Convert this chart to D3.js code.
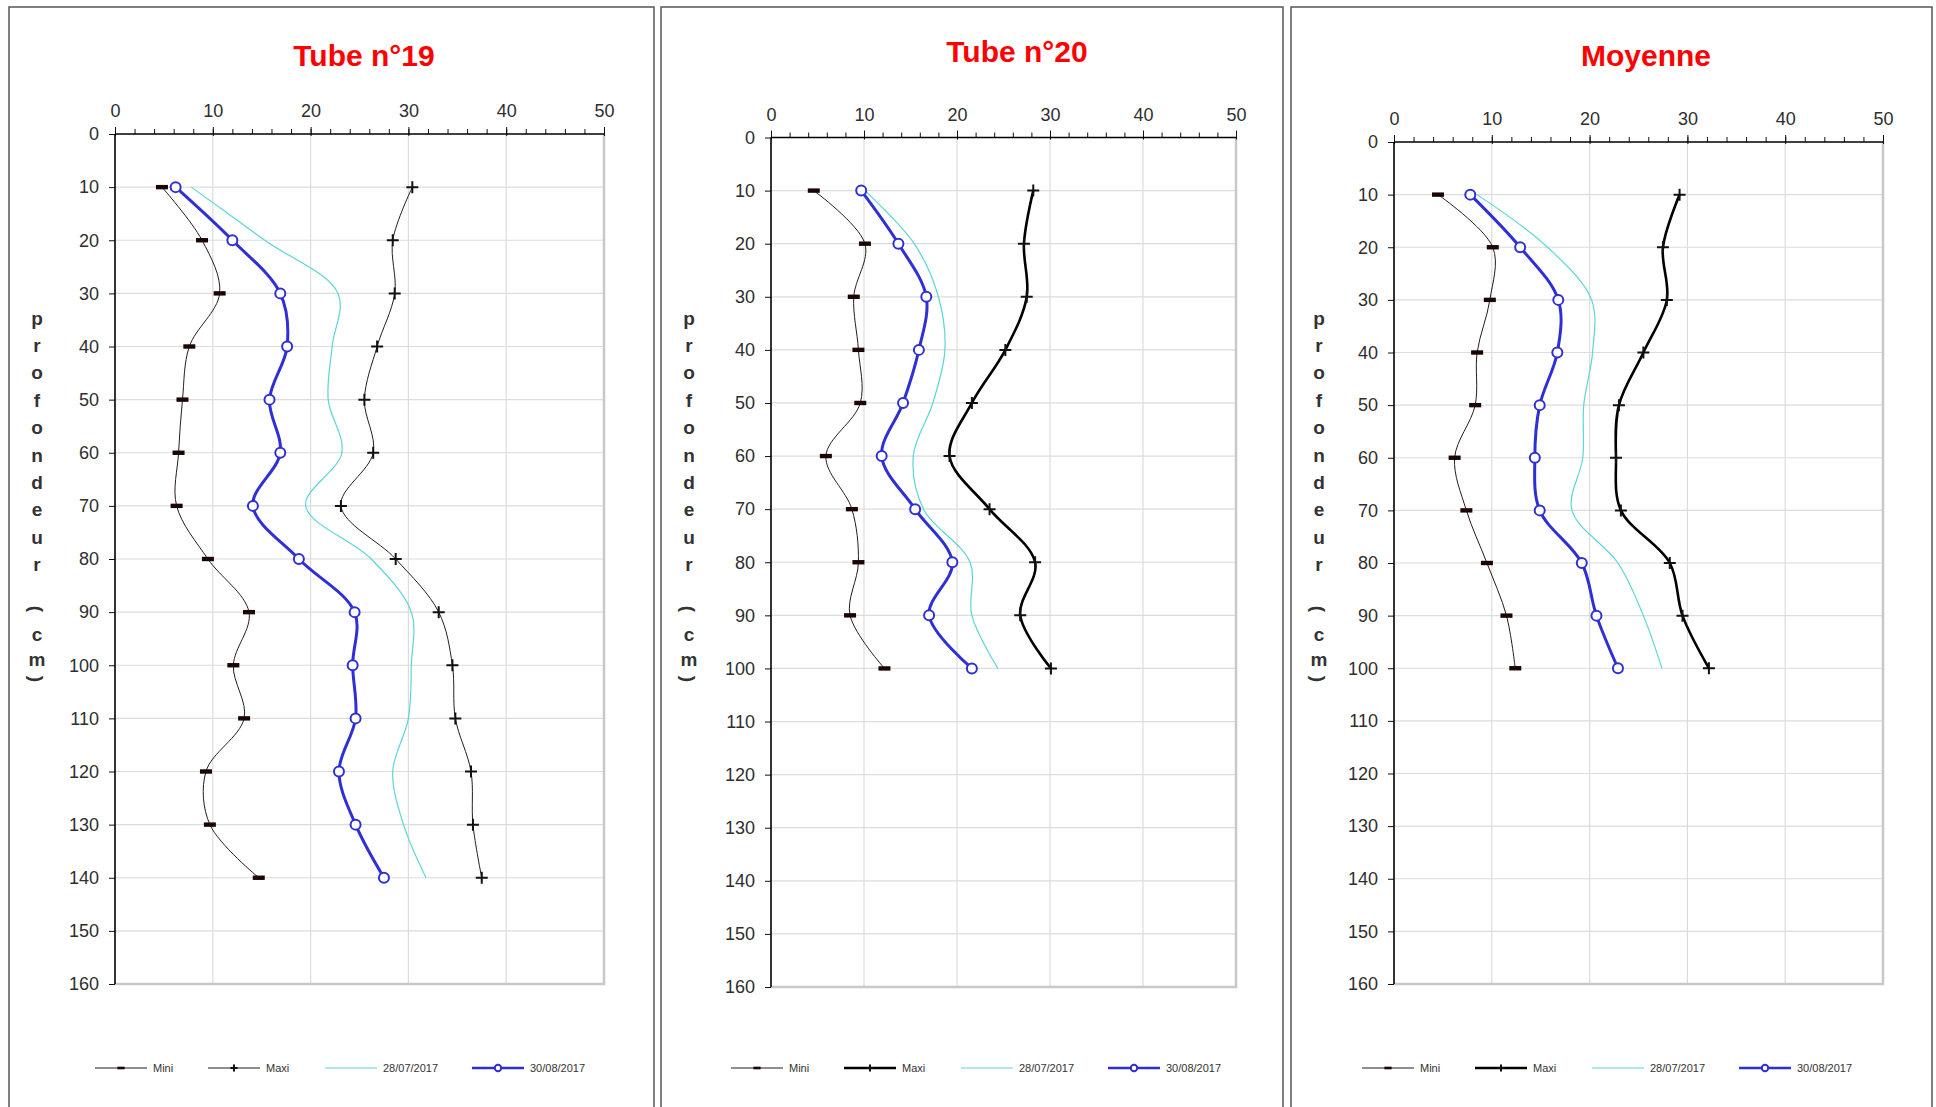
<!DOCTYPE html>
<html>
<head>
<meta charset="utf-8">
<script src="https://cdn.jsdelivr.net/npm/d3@7"></script>
<style>
  body { margin: 0; background: #fff; }
  svg { display: block; font-family: Arial, "Liberation Sans", sans-serif; }
</style>
</head>
<body>
<div id="chart"></div>
<script>
// profondeurs (cm)
const depth19 = [10, 20, 30, 40, 50, 60, 70, 80, 90, 100, 110, 120, 130, 140];
const depth20 = [10, 20, 30, 40, 50, 60, 70, 80, 90, 100];

// Tube n°19
const tube19Mini = [4.8, 8.9, 10.7, 7.6, 6.9, 6.5, 6.3, 9.5, 13.7, 12.1, 13.2, 9.3, 9.7, 14.7];
const tube19Maxi = [30.4, 28.4, 28.6, 26.8, 25.5, 26.4, 23.1, 28.7, 33.1, 34.5, 34.8, 36.4, 36.6, 37.5];
const tube19Jul  = [7.8, 15.3, 22.8, 22.2, 21.8, 23.2, 19.5, 26.2, 30.3, 30.3, 30.0, 28.4, 29.5, 31.8];
const tube19Aug  = [6.2, 12.0, 16.9, 17.6, 15.8, 16.9, 14.1, 18.8, 24.5, 24.3, 24.6, 22.9, 24.6, 27.5];

// Tube n°20
const tube20Mini = [4.6, 10.1, 8.9, 9.4, 9.6, 5.9, 8.7, 9.4, 8.5, 12.2];
const tube20Maxi = [28.2, 27.2, 27.5, 25.2, 21.6, 19.2, 23.5, 28.4, 26.8, 30.1];
const tube20Jul  = [10.1, 15.4, 18.0, 18.7, 17.4, 15.3, 16.4, 21.4, 21.6, 24.4];
const tube20Aug  = [9.7, 13.7, 16.7, 15.9, 14.2, 11.9, 15.5, 19.5, 17.0, 21.6];

// Moyenne
const moyMini = [4.5, 10.1, 9.8, 8.5, 8.3, 6.2, 7.4, 9.5, 11.5, 12.4];
const moyMaxi = [29.2, 27.5, 27.9, 25.5, 23.0, 22.7, 23.2, 28.2, 29.5, 32.2];
const moyJul  = [8.5, 15.7, 20.2, 20.3, 19.4, 19.3, 18.2, 22.9, 25.5, 27.4];
const moyAug  = [7.8, 12.9, 16.8, 16.7, 14.9, 14.4, 14.9, 19.2, 20.7, 22.9];

const seriesNames = ['Mini', 'Maxi', '28/07/2017', '30/08/2017'];
const xTicks = [0, 10, 20, 30, 40, 50];
const yTicks = d3.range(0, 161, 10);
const yLabel = ['p', 'r', 'o', 'f', 'o', 'n', 'd', 'e', 'u', 'r'];

const W = 1936, H = 1107;
const BLUE = '#2f2fd6', CYAN = '#5ad6d6', DARK = '#2a1a1a';

const panels = [
    { title: 'Tube n°19', depths: depth19, series: [tube19Mini, tube19Maxi, tube19Jul, tube19Aug],
      box: [9, 7, 654], plot: [115, 604, 134, 984], titleX: 364, titleY: 66, labelX: 37, legendX: 95, thickMaxi: false },
    { title: 'Tube n°20', depths: depth20, series: [tube20Mini, tube20Maxi, tube20Jul, tube20Aug],
      box: [661, 7, 1283], plot: [771, 1236, 137.5, 987], titleX: 1017, titleY: 62, labelX: 689, legendX: 731, thickMaxi: true },
    { title: 'Moyenne', depths: depth20, series: [moyMini, moyMaxi, moyJul, moyAug],
      box: [1291, 7, 1932], plot: [1394, 1883, 142, 984], titleX: 1646, titleY: 66, labelX: 1319, legendX: 1362, thickMaxi: true },
];

const svg = d3.select('#chart').append('svg')
    .attr('width', W).attr('height', H)
    .attr('viewBox', `0 0 ${W} ${H}`);

// marqueurs
function drawMarker(g, kind, x, y, small) {
    const s = small ? 0.6 : 1;
    if (kind === 0) {
        g.append('rect')
            .attr('x', x - 6 * s).attr('y', y - 2.2 * s)
            .attr('width', 12 * s).attr('height', 4.4 * s)
            .attr('fill', '#1a0505');
    } else if (kind === 1) {
        g.append('path')
            .attr('d', `M${x - 6 * s},${y}H${x + 6 * s}M${x},${y - 6 * s}V${y + 6 * s}`)
            .attr('stroke', '#111').attr('stroke-width', 2).attr('fill', 'none');
    } else if (kind === 3) {
        g.append('circle')
            .attr('cx', x).attr('cy', y).attr('r', small ? 3.2 : 5)
            .attr('fill', '#fff').attr('stroke', BLUE).attr('stroke-width', 2);
    }
}

function seriesStyle(i, p) {
    if (i === 0) return { color: DARK, width: 1 };
    if (i === 1) return p.thickMaxi ? { color: '#000', width: 2.6 } : { color: DARK, width: 1 };
    if (i === 2) return { color: CYAN, width: 1.2 };
    return { color: BLUE, width: 3 };
}

panels.forEach(p => {
    const [bx0, by0, bx1] = p.box;
    const [px0, px1, py0, py1] = p.plot;

    // cadre du graphique
    svg.append('rect')
        .attr('x', bx0).attr('y', by0)
        .attr('width', bx1 - bx0).attr('height', H + 20)
        .attr('fill', '#fff').attr('stroke', '#555').attr('stroke-width', 1.5);

    const x = d3.scaleLinear().domain([0, 50]).range([px0, px1]);
    const y = d3.scaleLinear().domain([0, 160]).range([py0, py1]);

    // titre
    svg.append('text')
        .attr('x', p.titleX)
        .attr('y', p.titleY)
        .attr('text-anchor', 'middle')
        .attr('font-size', 30).attr('font-weight', 'bold')
        .attr('fill', '#ff0000')
        .text(p.title);

    const g = svg.append('g');

    // grille
    g.append('g').selectAll('line').data(xTicks.slice(1, -1)).join('line')
        .attr('x1', d => x(d)).attr('x2', d => x(d))
        .attr('y1', py0).attr('y2', py1)
        .attr('stroke', '#dcdcdc').attr('stroke-width', 1.2);
    g.append('g').selectAll('line').data(yTicks.slice(1, -1)).join('line')
        .attr('x1', px0).attr('x2', px1)
        .attr('y1', d => y(d)).attr('y2', d => y(d))
        .attr('stroke', '#dcdcdc').attr('stroke-width', 1.2);

    // bordure droite / bas de la zone de tracé
    g.append('path')
        .attr('d', `M${px1},${py0}V${py1}H${px0}`)
        .attr('fill', 'none').attr('stroke', '#c8c8c8').attr('stroke-width', 2.5);

    // axe haut (graduations mineures + majeures)
    const minor = d3.axisTop(x).tickValues(d3.range(0, 51, 2)).tickSize(5).tickFormat('');
    const gMinor = g.append('g').attr('transform', `translate(0,${py0})`).call(minor);
    gMinor.select('.domain').remove();
    gMinor.selectAll('line').attr('stroke', '#111');

    const xAxis = d3.axisTop(x).tickValues(xTicks).tickSizeInner(7).tickSizeOuter(0).tickPadding(10);
    const gx = g.append('g').attr('transform', `translate(0,${py0})`).call(xAxis);
    gx.select('.domain').remove();
    gx.selectAll('line').attr('stroke', '#111').attr('y2', -7).attr('y1', 2);
    gx.selectAll('text').attr('font-size', 18).attr('fill', '#2e2e2e')
        .attr('font-family', 'Arial, "Liberation Sans", sans-serif');

    const yAxis = d3.axisLeft(y).tickValues(yTicks).tickSizeInner(6).tickSizeOuter(0).tickPadding(10);
    const gy = g.append('g').attr('transform', `translate(${px0},0)`).call(yAxis);
    gy.select('.domain').remove();
    gy.selectAll('line').attr('stroke', '#111');
    gy.selectAll('text').attr('font-size', 18).attr('fill', '#2e2e2e')
        .attr('font-family', 'Arial, "Liberation Sans", sans-serif');

    g.append('line').attr('x1', px0).attr('x2', px1).attr('y1', py0).attr('y2', py0)
        .attr('stroke', '#000').attr('stroke-width', 1.6);
    g.append('line').attr('x1', px0).attr('x2', px0).attr('y1', py0).attr('y2', py1)
        .attr('stroke', '#000').attr('stroke-width', 1.6);

    // courbes
    const line = d3.line()
        .x(d => x(d[0])).y(d => y(d[1]))
        .curve(d3.curveCatmullRom.alpha(0.5));

    p.series.forEach((vals, i) => {
        const st = seriesStyle(i, p);
        const pts = vals.map((v, k) => [v, p.depths[k]]);
        g.append('path')
            .attr('d', line(pts))
            .attr('fill', 'none')
            .attr('stroke', st.color)
            .attr('stroke-width', st.width);
    });
    p.series.forEach((vals, i) => {
        if (i === 2) return;
        const gm = g.append('g');
        vals.forEach((v, k) => drawMarker(gm, i, x(v), y(p.depths[k]), false));
    });

    // titre axe vertical (texte empilé)
    const gl = svg.append('g').attr('font-size', 19).attr('font-weight', 'bold').attr('fill', '#333')
        .attr('text-anchor', 'middle');
    yLabel.forEach((c, k) => {
        gl.append('text').attr('x', p.labelX).attr('y', 318 + k * 27.4)
            .attr('dy', '0.35em').text(c);
    });
    gl.append('text').attr('transform', `translate(${p.labelX},609) rotate(90)`)
        .attr('dy', '0.35em').text('(');
    gl.append('text').attr('x', p.labelX).attr('y', 634).attr('dy', '0.35em').text('c');
    gl.append('text').attr('x', p.labelX).attr('y', 659).attr('dy', '0.35em').text('m');
    gl.append('text').attr('transform', `translate(${p.labelX},679) rotate(90)`)
        .attr('dy', '0.35em').text(')');

    // légende
    const ly = 1068;
    const offsets = [0, 113, 230, 377];
    const lg = svg.append('g');
    seriesNames.forEach((name, i) => {
        const st = seriesStyle(i, p);
        const lx = p.legendX + offsets[i];
        lg.append('line').attr('x1', lx).attr('x2', lx + 52).attr('y1', ly).attr('y2', ly)
            .attr('stroke', st.color).attr('stroke-width', Math.min(st.width, 2.6));
        drawMarker(lg, i, lx + 26, ly, true);
        lg.append('text').attr('x', lx + 58).attr('y', ly).attr('dy', '0.35em')
            .attr('font-size', 11).attr('fill', '#333').text(name);
    });
});
</script>
</body>
</html>
